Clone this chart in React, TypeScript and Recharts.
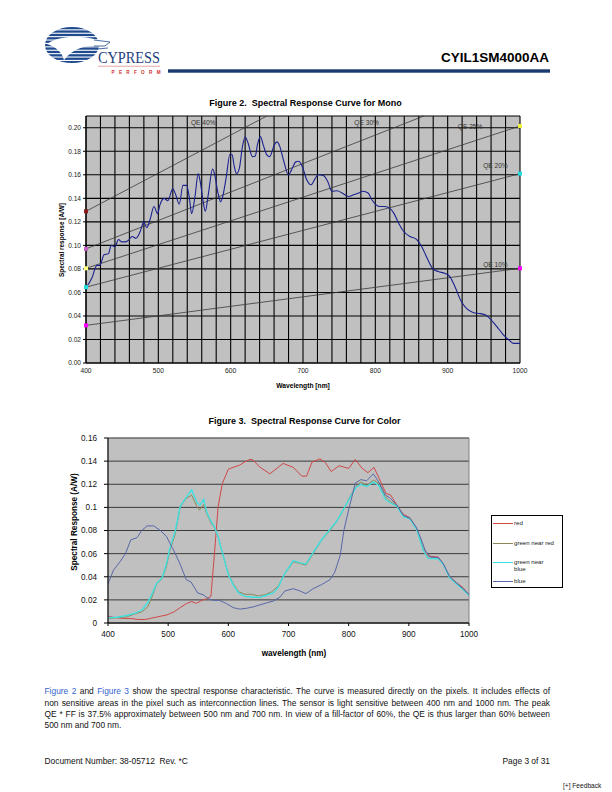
import React from "react";
import {
  LineChart,
  Line,
  XAxis,
  YAxis,
  CartesianGrid,
  ReferenceDot,
  ReferenceArea,
} from "recharts";

const FONT = "'Liberation Sans', Arial, Helvetica, sans-serif";

// ---- Figure 2: mono spectral response [nm, A/W] ----
const monoCurve: [number, number][] = [
  [400, 0.064], [408, 0.072], [415, 0.083], [419, 0.083], [425, 0.092],
  [431, 0.093], [435, 0.1], [440, 0.099], [445, 0.105], [449, 0.103],
  [454, 0.103], [458, 0.104], [464, 0.1075], [469, 0.106], [475, 0.112],
  [480, 0.12], [484, 0.115], [489, 0.123], [494, 0.133], [499, 0.127],
  [502, 0.134], [508, 0.14], [513, 0.138], [520, 0.148], [524, 0.143],
  [529, 0.135], [534, 0.151], [539, 0.151], [543, 0.14], [546, 0.127],
  [551, 0.143], [555, 0.161], [558, 0.154], [562, 0.137], [565, 0.129],
  [569, 0.143], [575, 0.165], [578, 0.16], [582, 0.146], [586, 0.137],
  [589, 0.1415], [594, 0.1585], [599, 0.1775], [602, 0.177], [605, 0.167],
  [608, 0.161], [612, 0.1655], [616, 0.183], [620, 0.192], [624, 0.187],
  [630, 0.1755], [634, 0.176], [637, 0.1855], [641, 0.1925], [645, 0.1855],
  [650, 0.177], [654, 0.1755], [660, 0.185], [664, 0.188], [668, 0.184],
  [673, 0.1725], [680, 0.16], [684, 0.164], [690, 0.171], [694, 0.1715],
  [699, 0.167], [705, 0.156], [711, 0.1515], [717, 0.157], [721, 0.16],
  [728, 0.1595], [734, 0.1545], [740, 0.146], [747, 0.1465], [754, 0.1445],
  [763, 0.1415], [770, 0.143], [777, 0.1445], [783, 0.146], [790, 0.1445],
  [795, 0.139], [801, 0.1345], [807, 0.133], [813, 0.133], [820, 0.1315],
  [826, 0.127], [832, 0.119], [839, 0.112], [848, 0.1075], [856, 0.1055],
  [864, 0.099], [871, 0.09], [879, 0.0805], [887, 0.0777], [896, 0.0763],
  [903, 0.0735], [910, 0.065], [919, 0.052], [926, 0.0465], [935, 0.043],
  [945, 0.042], [952, 0.041], [958, 0.038], [968, 0.031], [977, 0.024],
  [984, 0.02], [991, 0.0167], [1000, 0.0167],
];

// constant-QE reference lines, visible segments
const qe10: [number, number][] = [[400, 0.032], [1000, 0.0805]];
const qe20: [number, number][] = [[400, 0.0645], [1000, 0.161]];
const qe25: [number, number][] = [[400, 0.0805], [1000, 0.2015]];
const qe30: [number, number][] = [[400, 0.097], [867, 0.21]];
const qe40: [number, number][] = [[400, 0.129], [650, 0.21]];

const qeLabels = [
  { text: "QE 40%", x: 562, y: 0.2045 },
  { text: "QE 30%", x: 788, y: 0.2045 },
  { text: "QE 25%", x: 931, y: 0.201 },
  { text: "QE 20%", x: 966, y: 0.168 },
  { text: "QE 10%", x: 966, y: 0.084 },
];

const monoXTicks = [
  400, 420, 440, 460, 480, 500, 520, 540, 560, 580, 600, 620, 640, 660, 680,
  700, 720, 740, 760, 780, 800, 820, 840, 860, 880, 900, 920, 940, 960, 980,
  1000,
];
const monoYTicks = [0, 0.02, 0.04, 0.06, 0.08, 0.1, 0.12, 0.14, 0.16, 0.18, 0.2];

// ---- Figure 3: colour pixels [nm, A/W] ----
const red: [number, number][] = [
  [400, 0.006], [412, 0.0046], [426, 0.004], [440, 0.0038], [451, 0.003],
  [462, 0.003], [473, 0.0043], [487, 0.0058], [498, 0.007], [509, 0.0095],
  [520, 0.0133], [531, 0.017], [539, 0.0185], [547, 0.017], [556, 0.0196],
  [564, 0.021], [571, 0.023], [576, 0.054], [583, 0.1005], [590, 0.1207],
  [600, 0.133], [608, 0.1346], [619, 0.1366], [628, 0.1395], [636, 0.1415],
  [641, 0.141], [652, 0.135], [669, 0.129], [691, 0.138], [708, 0.1346],
  [722, 0.127], [730, 0.127], [739, 0.139], [752, 0.142], [761, 0.139],
  [771, 0.131], [784, 0.136], [800, 0.1337], [811, 0.1415], [822, 0.134],
  [832, 0.13], [842, 0.1346], [852, 0.1236], [862, 0.112], [870, 0.1106],
  [880, 0.102], [891, 0.094], [902, 0.091], [913, 0.0817], [924, 0.0644],
  [932, 0.058], [949, 0.057], [957, 0.0514], [968, 0.04], [979, 0.035],
  [990, 0.0306], [1000, 0.0245],
];
const greenNearRed: [number, number][] = [
  [400, 0.0038], [415, 0.0046], [431, 0.0052], [445, 0.008], [456, 0.0095],
  [466, 0.0139], [473, 0.0225], [481, 0.034], [490, 0.0384], [497, 0.0485],
  [503, 0.063], [512, 0.0774], [520, 0.1005], [530, 0.1077], [539, 0.1106],
  [548, 0.1005], [552, 0.0976], [559, 0.1025], [564, 0.0947], [571, 0.0866],
  [576, 0.0832], [583, 0.0745], [592, 0.057], [600, 0.0427], [608, 0.034],
  [617, 0.027], [628, 0.0248], [639, 0.0248], [650, 0.0234], [661, 0.0245],
  [672, 0.027], [683, 0.032], [694, 0.0427], [708, 0.053], [719, 0.0514],
  [729, 0.05], [741, 0.06], [755, 0.0716], [769, 0.08], [780, 0.0875],
  [791, 0.0976], [802, 0.109], [812, 0.118], [820, 0.122], [830, 0.119],
  [841, 0.1236], [850, 0.121], [861, 0.109], [869, 0.105], [880, 0.102],
  [891, 0.0924], [902, 0.0904], [913, 0.0817], [924, 0.063], [932, 0.0563],
  [949, 0.0557], [957, 0.0514], [968, 0.039], [979, 0.034], [990, 0.0297],
  [1000, 0.0245],
];
const greenNearBlue: [number, number][] = [
  [400, 0.0045], [415, 0.005], [431, 0.0065], [445, 0.0085], [456, 0.011],
  [466, 0.0175], [473, 0.025], [481, 0.0345], [490, 0.039], [497, 0.051],
  [503, 0.065], [512, 0.08], [520, 0.101], [530, 0.1086], [539, 0.115],
  [548, 0.104], [553, 0.102], [559, 0.107], [564, 0.096], [571, 0.088],
  [576, 0.084], [583, 0.075], [592, 0.057], [600, 0.042], [608, 0.033],
  [617, 0.026], [628, 0.023], [639, 0.0225], [652, 0.022], [663, 0.024],
  [675, 0.026], [683, 0.031], [694, 0.043], [708, 0.054], [719, 0.052],
  [729, 0.051], [741, 0.061], [755, 0.072], [769, 0.081], [780, 0.088],
  [791, 0.098], [802, 0.108], [812, 0.117], [820, 0.12], [830, 0.118],
  [841, 0.122], [850, 0.119], [861, 0.107], [869, 0.104], [880, 0.101],
  [891, 0.092], [902, 0.09], [913, 0.081], [924, 0.063], [932, 0.056],
  [949, 0.0555], [957, 0.051], [968, 0.039], [979, 0.034], [990, 0.029],
  [1000, 0.024],
];
const blue: [number, number][] = [
  [400, 0.034], [409, 0.0456], [420, 0.053], [429, 0.06], [438, 0.072],
  [448, 0.0737], [456, 0.08], [465, 0.084], [476, 0.084], [487, 0.08],
  [497, 0.075], [503, 0.069], [509, 0.063], [519, 0.052], [530, 0.0375],
  [538, 0.0355], [549, 0.026], [558, 0.0245], [567, 0.021], [575, 0.0196],
  [585, 0.0196], [597, 0.0168], [608, 0.0133], [619, 0.012], [630, 0.0127],
  [641, 0.0139], [652, 0.0156], [663, 0.0173], [675, 0.019], [686, 0.0225],
  [694, 0.0277], [708, 0.0297], [719, 0.0277], [729, 0.0254], [741, 0.0297],
  [755, 0.0332], [769, 0.0375], [777, 0.044], [786, 0.0586], [792, 0.08],
  [800, 0.098], [811, 0.121], [820, 0.124], [830, 0.123], [841, 0.129],
  [850, 0.122], [861, 0.1106], [869, 0.108], [880, 0.102], [891, 0.093],
  [902, 0.0904], [912, 0.083], [919, 0.0745], [927, 0.063], [936, 0.057],
  [949, 0.0566], [957, 0.0514], [968, 0.04], [979, 0.0347], [990, 0.0297],
  [1000, 0.0245],
];

const colorXTicks = [400, 500, 600, 700, 800, 900, 1000];
const colorYTicks = [0, 0.02, 0.04, 0.06, 0.08, 0.1, 0.12, 0.14, 0.16];
const legendNames = ["red", "green near red", "green near\nblue", "blue"];

const toPts = (a: [number, number][]) => a.map(([x, y]) => ({ x, y }));

// square end markers on the QE lines (left, right)
const qeLines = [
  { key: "qe40", pts: qe40, marks: ["#8b1c1c", null] },
  { key: "qe30", pts: qe30, marks: ["#c060c0", null] },
  { key: "qe25", pts: qe25, marks: ["#ffff80", "#f0f040"] },
  { key: "qe20", pts: qe20, marks: ["#20e0e0", "#20e0e0"] },
  { key: "qe10", pts: qe10, marks: ["#ff00ff", "#ff00ff"] },
];

const squareDot = (colors: (string | null)[]) => (props: any) => {
  const { cx, cy, index } = props;
  const c = colors[index];
  if (!c || cx == null || cy == null) return <g key={`d${index}`} />;
  return (
    <rect key={`d${index}`} x={cx - 2} y={cy - 2} width={4} height={4} fill={c} />
  );
};

const colorSeries = [
  { key: "red", pts: red, stroke: "#d04848", w: 1 },
  { key: "gnr", pts: greenNearRed, stroke: "#8c8a5a", w: 1 },
  { key: "gnb", pts: greenNearBlue, stroke: "#40e0e0", w: 1.4 },
  { key: "blue", pts: blue, stroke: "#5868a8", w: 1 },
];

function Logo() {
  const stripes = Array.from({ length: 11 }, (_, i) => 27 + i * 3.4);
  return (
    <svg
      width={612}
      height={90}
      style={{ position: "absolute", left: 0, top: 0 }}
    >
      <defs>
        <clipPath id="globe">
          <ellipse cx={72} cy={45} rx={27} ry={18} />
        </clipPath>
      </defs>
      <g clipPath="url(#globe)">
        {stripes.map((y) => (
          <rect key={y} x={44} y={y} width={60} height={2.3} fill="#1f4a8e" />
        ))}
      </g>
      <path
        d="M47,44 C58,36 78,35 94,39 L111,41 L106,46 L93,46 C82,46 72,50 64,60 C62,52 56,47 47,44 Z"
        fill="#fff"
      />
      <path
        d="M94,40 L110,42 L105,46 L94,46 M97,49 L108,48"
        fill="none"
        stroke="#1f4a8e"
        strokeWidth={0.8}
      />
      <text
        x={98}
        y={63.3}
        fontFamily="'Liberation Serif', 'Times New Roman', serif"
        fontSize={17}
        fill="#1f3f7e"
        textLength={62}
        lengthAdjust="spacingAndGlyphs"
      >
        CYPRESS
      </text>
      <rect x={98} y={65.8} width={62} height={0.7} fill="#e08080" />
      <text
        x={111.5}
        y={73.5}
        fontFamily={FONT}
        fontSize={4.6}
        fontWeight="bold"
        fill="#d03030"
        textLength={49}
        lengthAdjust="spacing"
      >
        PERFORM
      </text>
      <rect x={168} y={69.3} width={382} height={3.4} fill="#1b3a6f" />
      <text
        x={549}
        y={61.7}
        textAnchor="end"
        fontFamily={FONT}
        fontWeight="bold"
        fontSize={12}
        textLength={108}
        lengthAdjust="spacingAndGlyphs"
        fill="#000"
      >
        CYIL1SM4000AA
      </text>
    </svg>
  );
}

function MonoChart() {
  return (
    <div style={{ position: "absolute", left: 0, top: 110 }}>
      <LineChart
        width={612}
        height={290}
        margin={{ top: 6, right: 92, left: 50, bottom: 17 }}
      >
        <CartesianGrid
          fill="#c0c0c0"
          stroke="#000"
          strokeWidth={1.1}
          strokeOpacity={1}
        />
        <XAxis
          type="number"
          dataKey="x"
          domain={[400, 1000]}
          ticks={monoXTicks}
          interval={0}
          height={20}
          tickLine={false}
          tickSize={3}
          tickMargin={2}
          axisLine={{ stroke: "#000", strokeWidth: 1.1 }}
          tickFormatter={(v) => (v % 100 === 0 ? String(v) : "")}
          tick={{ fontSize: 6.7, fill: "#222", fontFamily: FONT }}
        />
        <YAxis
          type="number"
          domain={[0, 0.21]}
          ticks={monoYTicks}
          interval={0}
          width={36}
          tickSize={3}
          tickMargin={2}
          tickLine={{ stroke: "#000" }}
          axisLine={{ stroke: "#000", strokeWidth: 1.1 }}
          tickFormatter={(v) => Number(v).toFixed(2)}
          tick={{ fontSize: 6.6, fill: "#222", fontFamily: FONT }}
        />
        {qeLines.map((q) => (
          <Line
            key={q.key}
            data={toPts(q.pts)}
            dataKey="y"
            type="linear"
            stroke="#3a3a3a"
            strokeWidth={0.8}
            dot={squareDot(q.marks)}
            activeDot={false}
            isAnimationActive={false}
          />
        ))}
        <Line
          data={toPts(monoCurve)}
          dataKey="y"
          type="monotone"
          stroke="#1b2290"
          strokeWidth={1.1}
          dot={false}
          activeDot={false}
          isAnimationActive={false}
        />
        {qeLabels.map((l) => (
          <ReferenceDot
            key={l.text}
            x={l.x}
            y={l.y}
            r={1}
            fill="none"
            stroke="none"
            label={{
              value: l.text,
              position: "center",
              fontSize: 6.6,
              fill: "#333",
              fontFamily: FONT,
            }}
          />
        ))}
      </LineChart>
    </div>
  );
}

function ColorChart() {
  return (
    <div style={{ position: "absolute", left: 0, top: 430 }}>
      <LineChart
        width={612}
        height={230}
        margin={{ top: 8, right: 143, left: 68, bottom: 12 }}
      >
        <CartesianGrid
          vertical={false}
          fill="#c0c0c0"
          stroke="#3a3a3a"
          strokeOpacity={1}
        />
        <ReferenceArea
          x1={400}
          x2={1000}
          y1={0}
          y2={0.16}
          fill="none"
          stroke="#808080"
          strokeWidth={1}
          fillOpacity={0}
        />
        <XAxis
          type="number"
          dataKey="x"
          domain={[400, 1000]}
          ticks={colorXTicks}
          interval={0}
          height={25}
          tickSize={3}
          tickMargin={5}
          tickLine={{ stroke: "#000" }}
          axisLine={{ stroke: "#000" }}
          tick={{ fontSize: 8.2, fill: "#111", fontFamily: FONT }}
        />
        <YAxis
          type="number"
          domain={[0, 0.16]}
          ticks={colorYTicks}
          interval={0}
          width={40}
          tickSize={4}
          tickMargin={7}
          tickLine={{ stroke: "#000" }}
          axisLine={{ stroke: "#000" }}
          tick={{ fontSize: 8.2, fill: "#111", fontFamily: FONT }}
        />
        {colorSeries.map((s) => (
          <Line
            key={s.key}
            data={toPts(s.pts)}
            dataKey="y"
            type="linear"
            stroke={s.stroke}
            strokeWidth={s.w}
            dot={false}
            activeDot={false}
            isAnimationActive={false}
          />
        ))}
      </LineChart>
    </div>
  );
}

function ColorLegend() {
  const rows = [7.7, 27.3, 46.7, 65.3];
  return (
    <div
      style={{
        position: "absolute",
        left: 491,
        top: 515,
        width: 72,
        height: 73,
        border: "1px solid #000",
        background: "#fff",
        boxSizing: "border-box",
      }}
    >
      {colorSeries.map((s, i) => (
        <div key={s.key}>
          <div
            style={{
              position: "absolute",
              left: 1,
              top: rows[i] - 0.5,
              width: 20,
              height: 1,
              background: s.stroke,
            }}
          />
          <div
            style={{
              position: "absolute",
              left: 22,
              top: rows[i] - 3.3,
              fontSize: 6.1,
              lineHeight: "6.2px",
              color: "#222",
              fontFamily: FONT,
              whiteSpace: "pre",
            }}
          >
            {legendNames[i]}
          </div>
        </div>
      ))}
    </div>
  );
}

function Labels() {
  const bold = { fontFamily: FONT, fontWeight: "bold" as const, fill: "#000" };
  return (
    <svg
      width={612}
      height={792}
      style={{ position: "absolute", left: 0, top: 0, pointerEvents: "none" }}
    >
      <text x={305.5} y={106} textAnchor="middle" fontSize={9} {...bold}>
        {"Figure 2.\u00a0 Spectral Response Curve for Mono"}
      </text>
      <text
        x={0}
        y={0}
        transform="translate(63.5 240) rotate(-90)"
        textAnchor="middle"
        fontSize={6.4}
        {...bold}
      >
        Spectral response [A/W]
      </text>
      <text x={303} y={388} textAnchor="middle" fontSize={6.7} {...bold}>
        Wavelength [nm]
      </text>
      <text x={304.5} y={424} textAnchor="middle" fontSize={9} {...bold}>
        {"Figure 3.\u00a0 Spectral Response Curve for Color"}
      </text>
      <text
        x={0}
        y={0}
        transform="translate(76.5 522) rotate(-90)"
        textAnchor="middle"
        fontSize={8.2}
        {...bold}
      >
        Spectral Response (A/W)
      </text>
      <text x={294} y={655.6} textAnchor="middle" fontSize={8.2} {...bold}>
        wavelength (nm)
      </text>
    </svg>
  );
}

function BodyText() {
  const line = (last: boolean): React.CSSProperties => ({
    height: 11.3,
    lineHeight: "11.3px",
    textAlign: "justify",
    textAlignLast: last ? "left" : "justify",
    whiteSpace: "nowrap",
  });
  const link = { color: "#3366cc" };
  return (
    <>
      <div
        style={{
          position: "absolute",
          left: 44.5,
          top: 686.3,
          width: 505.5,
          fontSize: 8.4,
          fontFamily: FONT,
          color: "#111",
        }}
      >
        <div style={line(false)}>
          <span style={link}>Figure 2</span> and{" "}
          <span style={link}>Figure 3</span> show the spectral response
          characteristic. The curve is measured directly on the pixels. It
          includes effects of
        </div>
        <div style={line(false)}>
          non sensitive areas in the pixel such as interconnection lines. The
          sensor is light sensitive between 400 nm and 1000 nm. The peak
        </div>
        <div style={line(false)}>
          QE * FF is 37.5% approximately between 500 nm and 700 nm. In view of
          a fill-factor of 60%, the QE is thus larger than 60% between
        </div>
        <div style={line(true)}>500 nm and 700 nm.</div>
      </div>
      <div
        style={{
          position: "absolute",
          left: 44.5,
          top: 756,
          width: 505.5,
          fontSize: 8.4,
          lineHeight: "11.3px",
          fontFamily: FONT,
          color: "#111",
          whiteSpace: "pre",
        }}
      >
        Document Number: 38-05712  Rev. *C
        <span style={{ position: "absolute", right: 0, top: 0 }}>
          Page 3 of 31
        </span>
      </div>
      <div
        style={{
          position: "absolute",
          left: 563,
          top: 780.5,
          fontSize: 6.6,
          lineHeight: "9px",
          fontFamily: FONT,
          color: "#111",
          whiteSpace: "pre",
        }}
      >
        [+] Feedback
      </div>
    </>
  );
}

export default function App() {
  return (
    <div
      style={{
        position: "absolute",
        left: 0,
        top: 0,
        width: 612,
        height: 792,
        background: "#fff",
        overflow: "hidden",
        fontFamily: FONT,
      }}
    >
      <Logo />
      <MonoChart />
      <ColorChart />
      <ColorLegend />
      <Labels />
      <BodyText />
    </div>
  );
}
